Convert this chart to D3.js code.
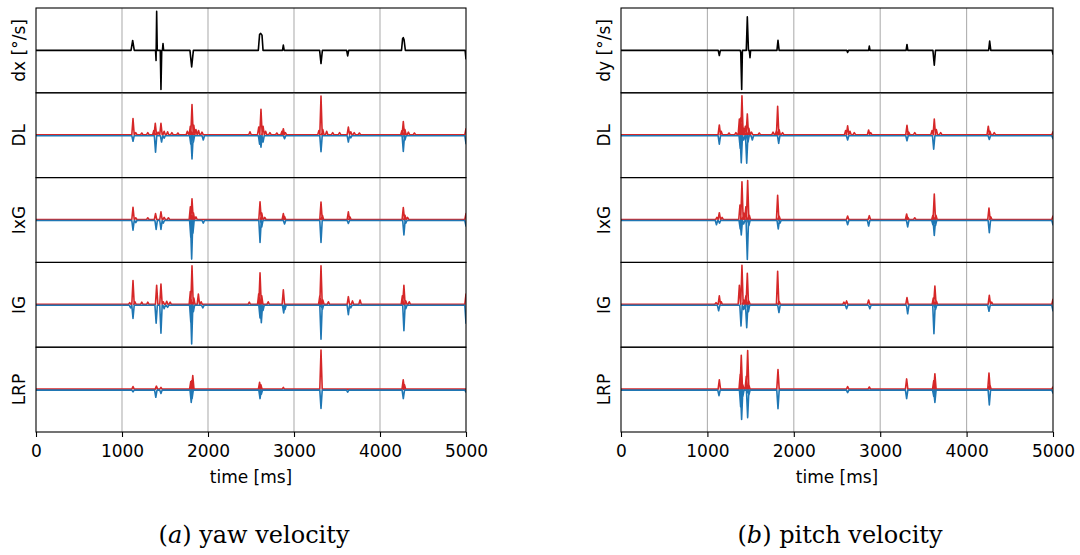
<!DOCTYPE html>
<html>
<head>
<meta charset="utf-8">
<script src="https://cdn.jsdelivr.net/npm/d3@7"></script>
<style>
  body { margin: 0; background: #fff; }
  svg text { font-family: "DejaVu Sans", sans-serif; }
</style>
</head>
<body>
<svg id="chart" width="1080" height="555"></svg>
<script>
"use strict";

// ==========================
// data (attributions scaled to [-1, 1])
// ==========================
var timeTicks = [0, 1000, 2000, 3000, 4000, 5000],
    gridTicks = [1000, 2000, 3000, 4000];

var rowLabelsYaw = ["dx [°/s]", "DL", "IxG", "IG", "LRP"],
    rowLabelsPitch = ["dy [°/s]", "DL", "IxG", "IG", "LRP"];

// eye velocity, [time ms, value]
var yawVelocity = [[0,0],[1105,0],[1124,0.235],[1143,0],[1390,0],[1396,-0.24],[1403,0.92],[1410,0],[1445,0],[1453,-0.92],[1462,0],[1470,0],[1477,0.16],[1484,0],[1790,0],[1810,-0.39],[1830,0],[2585,0],[2600,0.38],[2613,0.40],[2628,0.36],[2640,0],[2866,0],[2876,0.125],[2886,0],[3298,0],[3314,-0.31],[3330,0],[3612,0],[3624,-0.13],[3636,0],[4250,0],[4263,0.28],[4271,0.30],[4280,0.25],[4295,0],[4990,0],[5000,-0.21]];
var pitchVelocity = [[0,0],[1125,0],[1138,-0.12],[1150,0],[1380,0],[1386,-0.05],[1397,-0.92],[1405,0],[1450,0],[1462,0.79],[1475,0],[1485,0],[1493,-0.17],[1500,0],[1805,0],[1817,0.24],[1830,0],[2613,0],[2623,-0.05],[2633,0],[2866,0],[2874,0.1],[2882,0],[3300,0],[3310,0.14],[3320,0],[3610,0],[3626,-0.35],[3640,0],[4255,0],[4267,0.22],[4280,0],[4990,0],[5000,-0.1]];

// relevance spikes, [time ms, value] (positive = red, negative = blue)
var yawDLPos = [[1128,0.38],[1160,0.05],[1230,0.04],[1300,0.05],[1370,0.1],[1387,0.27],[1420,0.06],[1453,0.27],[1490,0.08],[1530,0.07],[1580,0.05],[1650,0.04],[1760,0.08],[1795,0.2],[1814,0.71],[1835,0.22],[1860,0.12],[1890,0.1],[1930,0.06],[2488,0.07],[2590,0.18],[2616,0.6],[2640,0.2],[2670,0.08],[2720,0.05],[2800,0.04],[2860,0.08],[2876,0.14],[2900,0.05],[3290,0.1],[3314,0.91],[3335,0.12],[3380,0.08],[3450,0.05],[3530,0.05],[3632,0.18],[3660,0.07],[3700,0.05],[3760,0.04],[4255,0.1],[4271,0.31],[4290,0.12],[4330,0.06],[4400,0.04],[5000,0.14]];
var yawDLNeg = [[1128,-0.13],[1390,-0.39],[1460,-0.15],[1490,-0.06],[1800,-0.2],[1814,-0.55],[1830,-0.15],[1945,-0.1],[2600,-0.2],[2616,-0.27],[2640,-0.15],[2890,-0.07],[3314,-0.38],[3632,-0.15],[3660,-0.05],[4271,-0.37],[4290,-0.1],[5000,-0.19]];
var yawIxGPos = [[1128,0.29],[1160,0.04],[1300,0.04],[1390,0.14],[1453,0.18],[1490,0.05],[1540,0.04],[1795,0.3],[1814,0.49],[1830,0.16],[1860,0.06],[2605,0.42],[2625,0.15],[2660,0.05],[2876,0.14],[2890,0.07],[3314,0.41],[3330,0.1],[3632,0.18],[3650,0.06],[4271,0.28],[4290,0.1],[4320,0.05],[5000,0.14]];
var yawIxGNeg = [[1128,-0.23],[1160,-0.05],[1397,-0.21],[1453,-0.21],[1480,-0.06],[1800,-0.4],[1810,-0.91],[1825,-0.3],[1945,-0.06],[2605,-0.52],[2625,-0.15],[2890,-0.08],[3314,-0.52],[3632,-0.07],[4278,-0.34],[4300,-0.06],[5000,-0.13]];
var yawIGPos = [[1090,0.04],[1128,0.56],[1150,0.06],[1230,0.05],[1300,0.05],[1403,0.45],[1453,0.48],[1480,0.06],[1520,0.07],[1560,0.05],[1795,0.3],[1814,0.91],[1835,0.15],[1888,0.24],[1920,0.06],[2480,0.05],[2590,0.25],[2605,0.74],[2625,0.2],[2700,0.06],[2876,0.34],[3300,0.2],[3314,0.91],[3335,0.1],[3400,0.06],[3632,0.18],[3680,0.08],[3768,0.1],[4260,0.2],[4278,0.45],[4300,0.08],[4340,0.06],[5000,0.24]];
var yawIGNeg = [[1100,-0.06],[1128,-0.31],[1397,-0.42],[1453,-0.66],[1490,-0.08],[1530,-0.05],[1800,-0.4],[1810,-0.91],[1830,-0.15],[1940,-0.06],[2605,-0.3],[2620,-0.41],[2640,-0.12],[2880,-0.18],[2895,-0.1],[3314,-0.8],[3330,-0.1],[3632,-0.22],[3660,-0.06],[4278,-0.6],[4300,-0.08],[5000,-0.42]];
var yawLRPPos = [[1128,0.06],[1400,0.07],[1453,0.04],[1800,0.18],[1812,0.2],[1823,0.32],[2600,0.16],[2615,0.1],[2876,0.04],[3314,0.92],[4270,0.22],[4285,0.1]];
var yawLRPNeg = [[1128,-0.04],[1393,-0.17],[1453,-0.08],[1805,-0.29],[1815,-0.2],[2605,-0.2],[2620,-0.1],[3314,-0.43],[3624,-0.05],[4271,-0.2],[5000,-0.05]];

var pitchDLPos = [[1138,0.23],[1160,0.08],[1250,0.04],[1330,0.05],[1370,0.37],[1386,0.4],[1400,0.92],[1420,0.15],[1440,0.2],[1462,0.49],[1480,0.15],[1510,0.06],[1600,0.04],[1760,0.06],[1800,0.1],[1813,0.67],[1830,0.12],[1870,0.05],[2600,0.1],[2623,0.21],[2650,0.08],[2700,0.05],[2866,0.11],[2890,0.05],[3310,0.22],[3330,0.06],[3400,0.05],[3600,0.1],[3626,0.37],[3650,0.12],[3700,0.05],[4251,0.2],[4270,0.08],[4320,0.05],[5000,0.07]];
var pitchDLNeg = [[1138,-0.2],[1380,-0.3],[1392,-0.64],[1420,-0.1],[1455,-0.65],[1470,-0.15],[1520,-0.1],[1825,-0.18],[2623,-0.1],[3310,-0.12],[3619,-0.32],[4263,-0.09],[5000,-0.07]];
var pitchIxGPos = [[1110,0.05],[1138,0.16],[1170,0.05],[1377,0.34],[1400,0.89],[1420,0.15],[1445,0.3],[1466,0.92],[1485,0.1],[1813,0.57],[1830,0.08],[2623,0.08],[2874,0.09],[3306,0.13],[3320,0.05],[3400,0.04],[3610,0.1],[3626,0.6],[3645,0.1],[4259,0.27],[4280,0.06],[5000,0.08]];
var pitchIxGNeg = [[1105,-0.1],[1140,-0.06],[1380,-0.2],[1392,-0.34],[1420,-0.08],[1462,-0.92],[1480,-0.12],[1820,-0.2],[1840,-0.06],[2623,-0.1],[2866,-0.13],[3318,-0.15],[3610,-0.1],[3626,-0.35],[3640,-0.12],[4263,-0.29],[5000,-0.1]];
var pitchIGPos = [[1100,0.04],[1138,0.2],[1160,0.06],[1370,0.45],[1400,0.92],[1420,0.1],[1445,0.2],[1462,0.73],[1480,0.08],[1813,0.78],[1830,0.07],[2580,0.05],[2611,0.08],[2866,0.1],[3310,0.16],[3615,0.15],[3633,0.43],[3650,0.08],[4263,0.21],[4290,0.05],[5000,0.12]];
var pitchIGNeg = [[1130,-0.13],[1389,-0.49],[1420,-0.1],[1455,-0.53],[1475,-0.15],[1828,-0.17],[2611,-0.08],[2880,-0.08],[3318,-0.2],[3622,-0.67],[3640,-0.1],[4259,-0.14],[5000,-0.13]];
var pitchLRPPos = [[1138,0.22],[1380,0.35],[1392,0.8],[1410,0.1],[1450,0.3],[1466,0.91],[1480,0.1],[1817,0.46],[2623,0.06],[2874,0.05],[3306,0.24],[3620,0.2],[3633,0.36],[4259,0.38],[4270,0.1],[5000,0.05]];
var pitchLRPNeg = [[1134,-0.13],[1385,-0.4],[1396,-0.69],[1410,-0.15],[1466,-0.65],[1480,-0.12],[1817,-0.44],[2623,-0.06],[3306,-0.2],[3620,-0.15],[3633,-0.29],[4263,-0.35],[5000,-0.07]];

var panels = [
  { left: 36, right: 466, labels: rowLabelsYaw, velocity: yawVelocity, letter: "a", caption: "yaw velocity",
    pos: [yawDLPos, yawIxGPos, yawIGPos, yawLRPPos], neg: [yawDLNeg, yawIxGNeg, yawIGNeg, yawLRPNeg] },
  { left: 621, right: 1053, labels: rowLabelsPitch, velocity: pitchVelocity, letter: "b", caption: "pitch velocity",
    pos: [pitchDLPos, pitchIxGPos, pitchIGPos, pitchLRPPos], neg: [pitchDLNeg, pitchIxGNeg, pitchIGNeg, pitchLRPNeg] }
];

// ==========================
// layout
// ==========================
var topY = 8, rowH = 84.8, nRows = 5,
    red = "#d62728", blue = "#1f77b4", gridColor = "#b0b0b0",
    spikeHalfWidth = 14; // ms

var svg = d3.select("#chart");
svg.append("rect").attr("width", 1080).attr("height", 555).attr("fill", "#fff");

// turn a spike list into a polyline along zero
function spikePoints(spikes) {
  var pts = [[0, 0]];
  spikes.forEach(function (s) {
    pts.push([s[0] - spikeHalfWidth, 0], s, [s[0] + spikeHalfWidth, 0]);
  });
  pts.push([5000, 0]);
  return pts;
}

panels.forEach(function (p, pi) {
  var x = d3.scaleLinear().domain([0, 5000]).range([p.left, p.right]);
  var g = svg.append("g");

  for (var r = 0; r < nRows; r++) {
    var y0 = topY + r * rowH,
        y = d3.scaleLinear().domain([-1, 1]).range([y0 + rowH, y0]),
        clipId = "clip-" + pi + "-" + r;

    svg.append("clipPath").attr("id", clipId).append("rect")
      .attr("x", p.left).attr("y", y0).attr("width", p.right - p.left).attr("height", rowH);

    var row = g.append("g");

    // grid
    row.selectAll(".grid").data(gridTicks).enter().append("line")
      .attr("x1", function (d) { return x(d); }).attr("x2", function (d) { return x(d); })
      .attr("y1", y0).attr("y2", y0 + rowH)
      .attr("stroke", gridColor).attr("stroke-width", 1.1);

    var line = d3.line().x(function (d) { return x(d[0]); }).y(function (d) { return y(d[1]); });
    var plot = row.append("g").attr("clip-path", "url(#" + clipId + ")");

    if (r === 0) {
      plot.append("path").datum(p.velocity).attr("d", line)
        .attr("fill", "none").attr("stroke", "#000").attr("stroke-width", 1.6)
        .attr("stroke-linejoin", "round");
    } else {
      plot.append("path").datum(spikePoints(p.pos[r - 1])).attr("d", line)
        .attr("transform", "translate(0,-0.5)")
        .attr("fill", "none").attr("stroke", red).attr("stroke-width", 1.6)
        .attr("stroke-linejoin", "round");
      plot.append("path").datum(spikePoints(p.neg[r - 1])).attr("d", line)
        .attr("transform", "translate(0,0.5)")
        .attr("fill", "none").attr("stroke", blue).attr("stroke-width", 1.6)
        .attr("stroke-linejoin", "round");
    }

    // frame
    row.append("rect").attr("x", p.left).attr("y", y0)
      .attr("width", p.right - p.left).attr("height", rowH)
      .attr("fill", "none").attr("stroke", "#000").attr("stroke-width", 1.1);

    // row label
    var lx = p.left - 11, ly = y0 + rowH / 2;
    row.append("text")
      .attr("transform", "translate(" + lx + "," + ly + ") rotate(-90)")
      .attr("text-anchor", "middle").attr("font-size", 17)
      .text(p.labels[r]);
  }

  // x axis
  var axisY = topY + nRows * rowH;
  var ax = g.append("g").attr("transform", "translate(0," + axisY + ")")
    .call(d3.axisBottom(x).tickValues(timeTicks).tickSize(5).tickPadding(8).tickFormat(d3.format("d")));
  ax.select(".domain").remove();
  ax.selectAll("line").attr("stroke-width", 1.1);
  ax.selectAll("text").attr("font-size", 17).attr("font-family", "DejaVu Sans");

  g.append("text").attr("x", (p.left + p.right) / 2).attr("y", axisY + 51)
    .attr("text-anchor", "middle").attr("font-size", 17).text("time [ms]");

  // caption
  var cap = g.append("text").attr("x", (p.left + p.right) / 2 + 3).attr("y", 543)
    .attr("text-anchor", "middle")
    .style("font-family", "'DejaVu Serif', serif").attr("font-size", 24);
  cap.append("tspan").text("(");
  cap.append("tspan").style("font-style", "italic").text(p.letter);
  cap.append("tspan").text(") " + p.caption);
});
</script>
</body>
</html>
